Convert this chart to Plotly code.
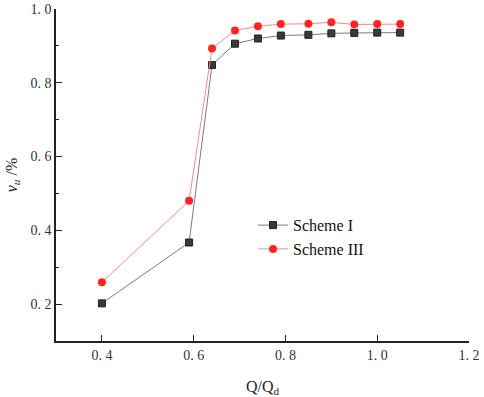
import plotly.graph_objects as go

q_ratio = [0.40, 0.59, 0.64, 0.69, 0.74, 0.79, 0.85, 0.90, 0.95, 1.00, 1.05]
scheme_1 = [0.202, 0.367, 0.848, 0.906, 0.920, 0.928, 0.930, 0.934, 0.935, 0.936, 0.936]
scheme_3 = [0.259, 0.480, 0.893, 0.942, 0.953, 0.959, 0.960, 0.964, 0.958, 0.959, 0.959]

x_tickvals = [0.4, 0.6, 0.8, 1.0, 1.2]
x_ticktext = ["0. 4", "0. 6", "0. 8", "1. 0", "1. 2"]
y_tickvals = [0.2, 0.4, 0.6, 0.8, 1.0]
y_ticktext = ["0. 2", "0. 4", "0. 6", "0. 8", "1. 0"]

serif = "Liberation Serif"

fig = go.Figure()
fig.add_trace(go.Scatter(
    x=q_ratio, y=scheme_1, name="Scheme I", mode="lines+markers",
    line=dict(color="#7a7a7a", width=1),
    marker=dict(symbol="square", size=7, color="#3a3a3a",
                line=dict(color="#222222", width=1)),
))
fig.add_trace(go.Scatter(
    x=q_ratio, y=scheme_3, name="Scheme III", mode="lines+markers",
    line=dict(color="#f08a8a", width=1),
    marker=dict(symbol="circle", size=8, color="#ff2222",
                line=dict(color="#ff2222", width=0)),
))

fig.update_layout(
    width=484, height=397,
    margin=dict(l=56, r=15, t=9, b=56),
    paper_bgcolor="white", plot_bgcolor="white",
    font=dict(family=serif, size=14, color="#222222"),
    showlegend=True,
    legend=dict(x=0.477, y=0.40, xanchor="left", yanchor="top",
                bgcolor="rgba(0,0,0,0)", font=dict(family=serif, size=16, color="#111111"),
                tracegroupgap=0, itemwidth=30),
)
fig.update_xaxes(
    range=[0.3, 1.2], tickvals=x_tickvals, ticktext=x_ticktext,
    showgrid=False, zeroline=False, showline=True, linecolor="#222222", linewidth=1.5,
    ticks="inside", ticklen=6, tickwidth=1.2, tickcolor="#222222",
    tickfont=dict(family=serif, size=14, color="#333333"),
    ticklabeloverflow="allow", automargin=False,
    title=dict(text="Q/Q<sub>d</sub>", font=dict(family=serif, size=16, color="#222222"), standoff=26),
)
fig.update_yaxes(
    range=[0.1, 1.0], tickvals=y_tickvals, ticktext=y_ticktext,
    showgrid=False, zeroline=False, showline=True, linecolor="#222222", linewidth=1.5,
    ticks="inside", ticklen=6, tickwidth=1.2, tickcolor="#222222",
    minor=dict(ticks="inside", ticklen=3, tickwidth=1, tickcolor="#222222", dtick=0.1, tick0=0.1),
    tickfont=dict(family=serif, size=14, color="#333333"),
    ticklabeloverflow="allow", automargin=False,
    title=dict(text="<i>v<sub>u</sub></i> /%", font=dict(family=serif, size=16, color="#222222"), standoff=9),
)

fig.write_html("out.html", config={"displayModeBar": False},
               post_script="document.body.style.margin='0';")
